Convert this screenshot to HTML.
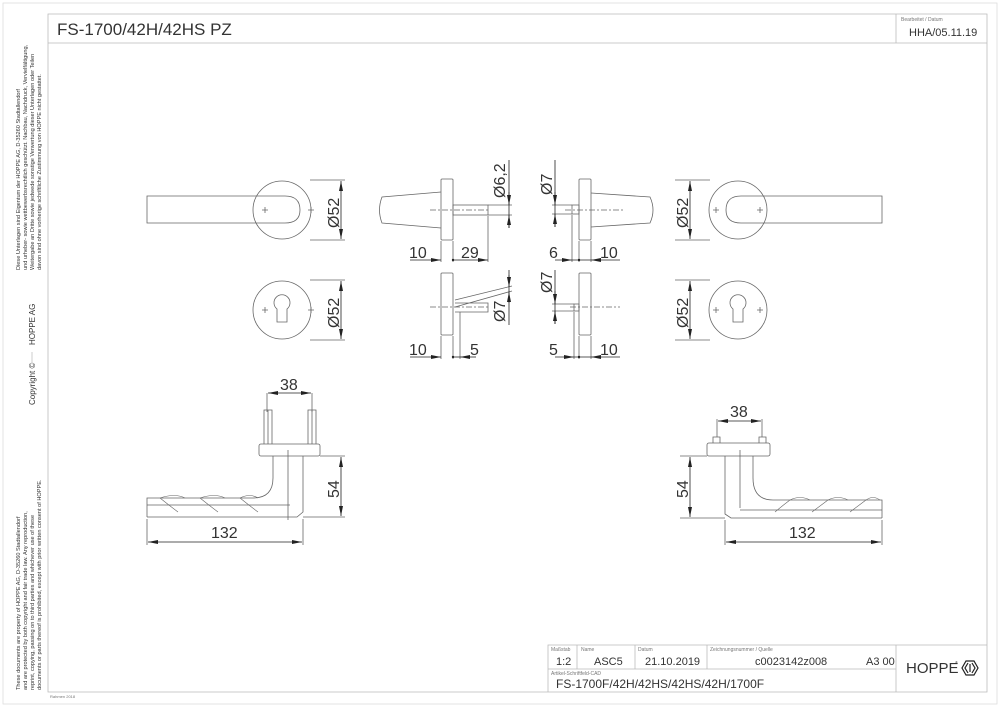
<!DOCTYPE html>
<html><head><meta charset="utf-8"><style>
html,body{margin:0;padding:0;background:#fff}
svg{display:block}
text{font-family:"Liberation Sans",sans-serif;fill:#333}
.t{fill:#777}
</style></head><body>
<svg width="1000" height="707" viewBox="0 0 1000 707" xmlns="http://www.w3.org/2000/svg">
<defs>
<marker id="a" viewBox="0 0 10 4" refX="10" refY="2" markerWidth="10" markerHeight="4" orient="auto-start-reverse" markerUnits="userSpaceOnUse"><path d="M0,0L10,2L0,4z" fill="#222"/></marker>
</defs>
<g fill="none" stroke="#bbb" stroke-width="0.8">
<rect x="3" y="3" width="994" height="701" stroke="#ddd"/>
<path d="M48,14H987V692H48Z"/>
<path d="M48,43H987M896,14V43"/>
<path d="M548,692V645H987M548,669H896M896,645V692M577,645V669M635,645V669M707,645V669"/>
</g>
<text x="57" y="35" font-size="17" fill="#333">FS-1700/42H/42HS PZ</text>
<text x="901" y="21" font-size="5" class="t">Bearbeitet / Datum</text>
<text x="909" y="36" font-size="11">HHA/05.11.19</text>
<g font-size="5" class="t"><text x="551" y="651" class="t">Maßstab</text><text x="581" y="651" class="t">Name</text><text x="638" y="651" class="t">Datum</text><text x="710" y="651" class="t">Zeichnungsnummer / Quelle</text><text x="551" y="675" class="t">Artikel-Schriftfeld-CAD</text></g>
<g font-size="11"><text x="556" y="665">1:2</text><text x="594" y="665">ASC5</text><text x="645" y="665">21.10.2019</text><text x="755" y="665">c0023142z008</text><text x="866" y="665">A3 00</text></g>
<text x="556" y="688" font-size="12">FS-1700F/42H/42HS/42HS/42H/1700F</text>
<text x="906" y="673" font-size="15" fill="#222">HOPPE</text>
<text x="955" y="664" font-size="4">®</text>
<path d="M966,661h8l4,7l-4,7h-8l-4,-7z M968,663l-3,5l3,5 M972,663l3,5l-3,5 M970,664v8" fill="none" stroke="#222" stroke-width="1.2"/>
<text x="50" y="698" font-size="4" class="t">Rahmen 2018</text>
<g font-size="5.6" class="t">
<text transform="translate(20,270) rotate(-90)">Diese Unterlagen sind Eigentum der  HOPPE AG, D-35260 Stadtallendorf</text>
<text transform="translate(27,270) rotate(-90)">und urheber- sowie wettbewerbsrechtlich geschützt. Nachbau, Nachdruck, Vervielfältigung,</text>
<text transform="translate(34,270) rotate(-90)">Weitergabe an Dritte sowie jedwede sonstige Verwertung dieser Unterlagen oder Teilen</text>
<text transform="translate(41,270) rotate(-90)">davon sind ohne vorherige schriftliche Zustimmung von HOPPE nicht gestattet.</text>
<text transform="translate(20,690) rotate(-90)">These documents are property of HOPPE AG, D-35260 Stadtallendorf</text>
<text transform="translate(27,690) rotate(-90)">and are protected by both copyright and fair trade law. Any reproduction,</text>
<text transform="translate(34,690) rotate(-90)">reprint, copying, passing on to third parties and whichever use of these</text>
<text transform="translate(41,690) rotate(-90)">documents or parts thereof is prohibited, except with prior written consent of HOPPE.</text>
</g>
<g font-size="8" class="t">
<text transform="translate(35,345) rotate(-90)">HOPPE  AG</text>
<text transform="translate(35,405) rotate(-90)">Copyright ©</text>
</g>
<path d="M32,352V362" stroke="#ccc"/>

<g fill="none" stroke="#666" stroke-width="0.8">
<circle cx="282" cy="210" r="29"/>
<path d="M147,196H285Q300,196 300,210Q300,223 285,223H147Z"/>
<path d="M262,210h6M265,207v6M308,210h6M311,207v6"/>
<circle cx="282" cy="310" r="29"/>
<path d="M277,322V309A8,8 0 1 1 287,309V322Z"/>
<path d="M262,310h6M265,307v6M308,310h6M311,307v6"/>
<circle cx="738" cy="210" r="29"/>
<path d="M882,196H741Q726,196 726,210Q726,223 741,223H882Z"/>
<path d="M713,210h6M716,207v6M757,210h6M760,207v6"/>
<circle cx="738" cy="310" r="29"/>
<path d="M733,322V309A8,8 0 1 1 743,309V322Z"/>
<path d="M713,310h6M716,307v6M757,310h6M760,307v6"/>
<rect x="441" y="179" width="12" height="61" rx="1"/>
<path d="M441,192L382,197Q377,210 382,223L441,228"/>
<rect x="453" y="205" width="35" height="10"/>
<path d="M430,210H490" stroke-dasharray="6 2 2 2"/>
<path d="M488,205H512M488,215H512M488,216V262M441,241V262M453,241V262"/>
<rect x="441" y="273" width="12" height="62" rx="1"/>
<path d="M455,303H488V312H455M455,300L512,286M455,307L512,291" />
<path d="M430,307H490" stroke-dasharray="6 2 2 2"/>
<path d="M441,336V359M453,336V359M460,312V359"/>
<rect x="579" y="179" width="12" height="61" rx="1"/>
<path d="M591,193L650,197Q656,210 650,223L591,227"/>
<rect x="572" y="205" width="7" height="9"/>
<path d="M565,210H625" stroke-dasharray="6 2 2 2"/>
<path d="M552,205H572M552,214H572M572,215V262M579,241V262M591,241V262"/>
<rect x="579" y="273" width="12" height="62" rx="1"/>
<rect x="574" y="304" width="5" height="7"/>
<path d="M570,307H620" stroke-dasharray="6 2 2 2"/>
<path d="M552,304H574M552,311H574M574,312V359M579,336V359M591,336V359"/>
<path d="M310,180H345M310,240H345M310,280H345M310,340H345"/>
<path d="M675,180H710M675,240H710M675,280H710M675,340H710"/>
<rect x="259" y="444" width="61" height="12" rx="2"/>
<path d="M264,444V410h8v34M308,444V410h8v34M268,410V444M312,410V444"/>
<path d="M147,517H297L303,512V456M273,456V478Q273,498 253,498H147V517M147,505H290"/>
<path d="M160,498Q175,493 185,498M200,498Q215,493 225,498M240,498Q250,493 258,498M160,498Q170,506 178,512M200,498Q210,506 218,512M240,498Q250,506 258,512" stroke-width="0.6"/>
<path d="M267,412V393M312,412V393M320,456H345M303,517H345M147,519V545M303,519V545M288,450V520" />
<rect x="707" y="443" width="63" height="13" rx="2"/>
<path d="M713,443V437h7v6M759,443V437h7v6"/>
<path d="M882,518H731L725,514V456M753,456V478Q753,500 773,500H882V518M740,510H882"/>
<path d="M790,500Q800,495 810,500M828,500Q838,495 848,500M866,500Q873,495 880,500M790,500Q782,506 775,512M828,500Q820,506 812,512M866,500Q858,506 850,512" stroke-width="0.6"/>
<path d="M717,437V419M762,437V419M680,456H707M680,518H725M725,520V545M882,520V545M740,450V508"/>
</g>
<g fill="none" stroke="#222" stroke-width="0.8">
<path d="M341,181V239" marker-start="url(#a)" marker-end="url(#a)"/>
<path d="M341,281V339" marker-start="url(#a)" marker-end="url(#a)"/>
<path d="M690,181V239" marker-start="url(#a)" marker-end="url(#a)"/>
<path d="M690,281V339" marker-start="url(#a)" marker-end="url(#a)"/>
<path d="M509,192V205" marker-end="url(#a)"/><path d="M509,228V215" marker-end="url(#a)"/><path d="M509,160V228"/>
<path d="M509,275V287" marker-end="url(#a)"/><path d="M509,303V292" marker-end="url(#a)"/><path d="M509,270V325"/>
<path d="M555,192V205" marker-end="url(#a)"/><path d="M555,227V214" marker-end="url(#a)"/><path d="M555,160V227"/>
<path d="M555,291V304" marker-end="url(#a)"/><path d="M555,324V311" marker-end="url(#a)"/><path d="M555,270V324"/>
<path d="M410,260H441" marker-end="url(#a)"/><path d="M453,260H488" marker-end="url(#a)"/>
<path d="M410,357H441" marker-end="url(#a)"/><path d="M476,357H460" marker-end="url(#a)"/><path d="M453,357H460"/>
<path d="M555,260H572" marker-end="url(#a)"/><path d="M620,260H591" marker-end="url(#a)"/><path d="M572,260H591"/>
<path d="M555,357H574" marker-end="url(#a)"/><path d="M620,357H591" marker-end="url(#a)"/><path d="M574,357H591"/>
<path d="M268,393H311" marker-start="url(#a)" marker-end="url(#a)"/>
<path d="M341,457V516" marker-start="url(#a)" marker-end="url(#a)"/>
<path d="M148,542H302" marker-start="url(#a)" marker-end="url(#a)"/>
<path d="M718,421H761" marker-start="url(#a)" marker-end="url(#a)"/>
<path d="M690,457V517" marker-start="url(#a)" marker-end="url(#a)"/>
<path d="M726,542H881" marker-start="url(#a)" marker-end="url(#a)"/>
</g>
<g fill="#222"><circle cx="453" cy="260" r="1.2"/><circle cx="453" cy="357" r="1.2"/><circle cx="579" cy="260" r="1.2"/><circle cx="579" cy="357" r="1.2"/></g>
<g font-size="16" fill="#222">
<text transform="translate(339,228) rotate(-90)">Ø52</text>
<text transform="translate(339,328) rotate(-90)">Ø52</text>
<text transform="translate(688,228) rotate(-90)">Ø52</text>
<text transform="translate(688,328) rotate(-90)">Ø52</text>
<text transform="translate(505,198) rotate(-90)">Ø6,2</text>
<text transform="translate(505,322) rotate(-90)">Ø7</text>
<text transform="translate(552,195) rotate(-90)">Ø7</text>
<text transform="translate(552,293) rotate(-90)">Ø7</text>
<text transform="translate(339,498) rotate(-90)">54</text>
<text transform="translate(688,498) rotate(-90)">54</text>
<text x="409" y="258">10</text><text x="461" y="258">29</text>
<text x="409" y="355">10</text><text x="470" y="355">5</text>
<text x="549" y="258">6</text><text x="600" y="258">10</text>
<text x="549" y="355">5</text><text x="600" y="355">10</text>
<text x="280" y="390">38</text>
<text x="730" y="417">38</text>
<text x="211" y="538">132</text>
<text x="789" y="538">132</text>
</g>
</svg>
</body></html>
